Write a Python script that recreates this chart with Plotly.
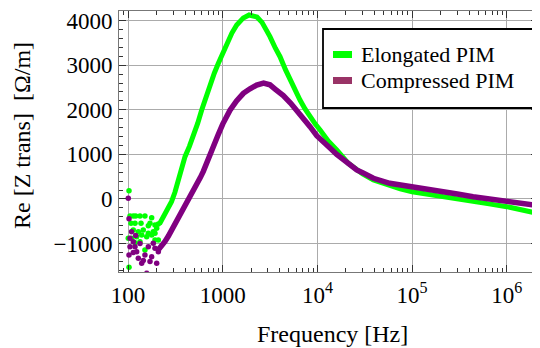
import plotly.graph_objects as go

# ---------------- data ----------------
# Elongated PIM: noisy low-frequency points
el_noise_f = [102.5, 105, 113.7, 120.6, 133.9, 151, 118.6, 137.2, 170.7, 192.7, 209,
              113.7, 128.5, 145, 163.9, 184.9, 200.9, 100.7, 109, 123.5, 139.5, 157.6,
              177.8, 192.7, 118.6, 133.9, 151, 192.7, 209, 102.5, 107.6, 163.9, 177.8]
el_noise_v = [187, -381, -381, -381, -381, -381, -546, -546, -546, -583, -561,
              -695, -733, -695, -770, -733, -658, -882, -882, -845, -807, -845,
              -807, -770, -979, -957, -1144, -919, -919, -1532, -546, -600, -420]
# Elongated PIM: main curve
el_f = [215, 230, 257, 288, 313, 355, 400, 445, 490, 545, 600, 665, 734, 815, 900,
        1000, 1100, 1250, 1405, 1650, 1900, 2300, 2600, 2910, 3155, 3600, 4030, 4600,
        5140, 5800, 6550, 7400, 8360, 9500, 10670, 13000, 16000, 21200, 26000, 30000,
        39000, 58000, 75000, 1e5, 1.4e5, 2e5, 3e5, 4.4e5, 6.5e5, 1e6, 1.4e6, 2e6]
el_v = [-560, -450, -250, -60, 150, 576, 949, 1180, 1397, 1700, 1996, 2300, 2594, 2820,
        3042, 3270, 3491, 3720, 3901, 4060, 4126, 4080, 3960, 3789, 3640, 3380, 3191,
        2900, 2668, 2440, 2220, 2020, 1845, 1680, 1547, 1300, 1099, 800, 660, 560, 426,
        300, 230, 164, 110, 67, 10, -60, -110, -172, -230, -310]

# Compressed PIM: noisy low-frequency points
co_noise_f = [100.7, 102.5, 109, 105, 105, 102.5, 113.7, 118.6, 123.5, 128.5, 139.5,
              157.6, 151, 163.9, 177.8, 200.9, 209, 184.9, 192.7, 113.7, 145, 133.9,
              170.7, 120.6]
co_noise_v = [15, -441, -733, -882, -1069, -1256, -957, -1069, -1181, -1331, -1443,
              -1667, -1256, -1069, -1294, -1443, -1181, -994, -1106, -1200, -1380, -1000,
              -1400, -820]
# Compressed PIM: main curve
co_f = [207, 227, 246, 267, 289, 313, 354, 400, 452, 490, 531, 580, 624, 700, 800, 900,
        1000, 1194, 1400, 1652, 1941, 2285, 2700, 3155, 3600, 4365, 5200, 6040, 7000,
        8360, 9840, 11540, 13500, 16000, 21200, 26000, 30000, 39000, 58000, 75000,
        1e5, 1.4e5, 2e5, 3e5, 4.4e5, 6.5e5, 1e6, 1.4e6, 1.9e6]
co_v = [-1150, -1060, -950, -830, -700, -560, -360, -180, 30, 200, 330, 480, 620, 900,
        1180, 1450, 1680, 1990, 2200, 2370, 2470, 2556, 2600, 2560, 2460, 2320, 2150,
        1996, 1820, 1621, 1420, 1300, 1150, 1000, 800, 650, 590, 464, 352, 310, 262,
        210, 164, 110, 52, 0, -60, -100, -135]

x_tick_vals = [100, 1000, 1e4, 1e5, 1e6]
x_tick_text = ["100", "1000", "10<sup>4</sup>", "10<sup>5</sup>", "10<sup>6</sup>"]
y_tick_vals = [-1000, 0, 1000, 2000, 3000, 4000]
y_tick_text = ["\u22121000", "0", "1000", "2000", "3000", "4000"]
series_names = ["Elongated PIM", "Compressed PIM"]

# ---------------- style ----------------
GREEN = "#00ff00"
PURPLE = "#800080"
LEG_PURPLE = "#993366"
FONT = "Liberation Serif"
OFF = 8                      # page body margin offset
W, H = 540 - OFF, 348 - OFF  # figure size
# plot area in page pixels: x 119..538, y 11..272
L, R, T, B = 119 - OFF, 2, 11 - OFF, 348 - 272
PW, PH = W - L - R, H - T - B


def px2paper(x, y):
    """page pixel -> paper coordinates"""
    return (x - OFF - L) / PW, (H - B - (y - OFF)) / PH


fig = go.Figure()
fig.add_trace(go.Scatter(x=el_noise_f, y=el_noise_v, mode="markers",
                         marker=dict(color=GREEN, size=5.5), showlegend=False))
fig.add_trace(go.Scatter(x=el_f, y=el_v, mode="lines",
                         line=dict(color=GREEN, width=5), showlegend=False))
fig.add_trace(go.Scatter(x=co_noise_f, y=co_noise_v, mode="markers",
                         marker=dict(color=PURPLE, size=5.5), showlegend=False))
fig.add_trace(go.Scatter(x=co_f, y=co_v, mode="lines",
                         line=dict(color=PURPLE, width=5.5), showlegend=False))

tickfont = dict(family=FONT, size=23, color="black")
axis_common = dict(showline=True, linecolor="#777777", linewidth=1, mirror="allticks",
                   ticks="inside", tickcolor="#333333", ticklen=7, tickwidth=1,
                   showgrid=True, gridcolor="#ababab", gridwidth=1, zeroline=False,
                   tickfont=tickfont)

fig.update_xaxes(type="log", range=[1.905, 6.329], tickmode="array",
                 tickvals=x_tick_vals, ticktext=x_tick_text, ticklabelstandoff=2,
                 minor=dict(ticks="inside", ticklen=4, tickcolor="#333333", dtick="D1",
                            showgrid=False),
                 **axis_common)
fig.update_yaxes(range=[-1637, 4215], tickmode="array", tickvals=y_tick_vals,
                 ticktext=y_tick_text, ticklabelstandoff=1,
                 minor=dict(ticks="inside", ticklen=4, tickcolor="#333333", dtick=200,
                            showgrid=False),
                 **axis_common)

shapes = []
annotations = []
# legend box
x0, y0 = px2paper(323, 108)
x1, y1 = px2paper(537, 29)
shapes.append(dict(type="rect", xref="paper", yref="paper", x0=x0, y0=y0, x1=x1, y1=y1,
                   line=dict(color="black", width=1.8), fillcolor="white", layer="above"))
for i, (name, col) in enumerate(zip(series_names, [GREEN, LEG_PURPLE])):
    cy = 54.5 + i * 26
    sx0, sy0 = px2paper(333, cy + 3.5)
    sx1, sy1 = px2paper(352, cy - 3.5)
    shapes.append(dict(type="rect", xref="paper", yref="paper", x0=sx0, y0=sy0, x1=sx1,
                       y1=sy1, line=dict(width=0), fillcolor=col, layer="above"))
    tx, ty = px2paper(359, cy)
    annotations.append(dict(text=name, xref="paper", yref="paper", x=tx, y=ty,
                            xanchor="left", yanchor="middle", showarrow=False,
                            font=dict(family=FONT, size=22, color="black")))

# axis titles
tx, ty = px2paper(332, 334)
annotations.append(dict(text="Frequency [Hz]", xref="paper", yref="paper", x=tx, y=ty,
                        xanchor="center", yanchor="middle", showarrow=False,
                        font=dict(family=FONT, size=24, color="black")))
tx, ty = px2paper(22, 136)
annotations.append(dict(text="Re [Z trans]  [\u03a9/m]", xref="paper", yref="paper",
                        x=tx, y=ty, xanchor="center", yanchor="middle", showarrow=False,
                        textangle=-90, font=dict(family=FONT, size=24, color="black")))

fig.update_layout(width=W, height=H, margin=dict(l=L, r=R, t=T, b=B),
                  font=dict(family=FONT, size=22, color="black"),
                  paper_bgcolor="white", plot_bgcolor="white", showlegend=False,
                  shapes=shapes, annotations=annotations)

fig.write_html("out.html")
